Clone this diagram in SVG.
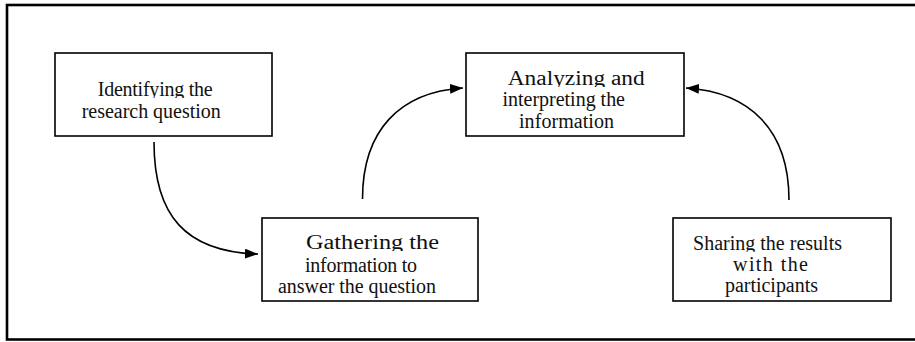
<svg xmlns="http://www.w3.org/2000/svg" width="915" height="342" viewBox="0 0 915 342">
<style>
.box{fill:#fff;stroke:#000;stroke-width:1.6}
.t{font-family:"Liberation Serif","Times New Roman",serif;font-size:20px;fill:#111}
.c{fill:none;stroke:#000;stroke-width:1.6}
</style>
<defs>
<marker id="ah" viewBox="0 0 13 10" refX="13" refY="5" markerWidth="13" markerHeight="10" markerUnits="userSpaceOnUse" orient="auto">
<path d="M0,0 L13,5 L0,10 Z" fill="#000"/>
</marker>
<clipPath id="c1"><rect x="0" y="0" width="915" height="98"/></clipPath>
<clipPath id="c3"><rect x="0" y="0" width="915" height="87"/></clipPath>
<clipPath id="c2"><rect x="0" y="200" width="915" height="51"/></clipPath>
<clipPath id="c4"><rect x="0" y="200" width="915" height="51.7"/></clipPath>
</defs>
<rect x="7" y="5" width="920" height="334.5" fill="#fff" stroke="#000" stroke-width="2.6"/>
<g id="connectors">
<path class="c" d="M154,142 C154,215 185,252 258,254" marker-end="url(#ah)"/>
<path class="c" d="M362.5,199 C362.5,130 400,92 463,88" marker-end="url(#ah)"/>
<path class="c" d="M789,200 C789,130 750,92 686,88" marker-end="url(#ah)"/>
</g>
<g id="node-identify">
<rect class="box" x="55" y="53" width="217" height="83"/>
<text class="t" x="97.7" y="96" textLength="115" lengthAdjust="spacing" clip-path="url(#c1)">Identifying the</text>
<text class="t" x="81.7" y="118.3" textLength="139" lengthAdjust="spacing">research question</text>
</g>
<g id="node-analyze">
<rect class="box" x="466" y="53" width="218" height="83"/>
<text class="t" x="507.7" y="85" textLength="137" lengthAdjust="spacingAndGlyphs" clip-path="url(#c3)">Analyzing and</text>
<text class="t" x="502.5" y="105.7" textLength="122.5" lengthAdjust="spacing">interpreting the</text>
<text class="t" x="519" y="128.3" textLength="95" lengthAdjust="spacing">information</text>
</g>
<g id="node-gather">
<rect class="box" x="262" y="218" width="216" height="83"/>
<text class="t" x="306" y="249" textLength="133" lengthAdjust="spacingAndGlyphs" clip-path="url(#c2)">Gathering the</text>
<text class="t" x="305" y="271.5" textLength="112" lengthAdjust="spacing">information to</text>
<text class="t" x="278" y="293" textLength="158" lengthAdjust="spacing">answer the question</text>
</g>
<g id="node-share">
<rect class="box" x="673" y="218" width="218" height="83"/>
<text class="t" x="693" y="250" textLength="149" lengthAdjust="spacing" clip-path="url(#c4)">Sharing the results</text>
<text class="t" x="733" y="271" textLength="75" lengthAdjust="spacing">with the</text>
<text class="t" x="725" y="292" textLength="93" lengthAdjust="spacing">participants</text>
</g>
</svg>
